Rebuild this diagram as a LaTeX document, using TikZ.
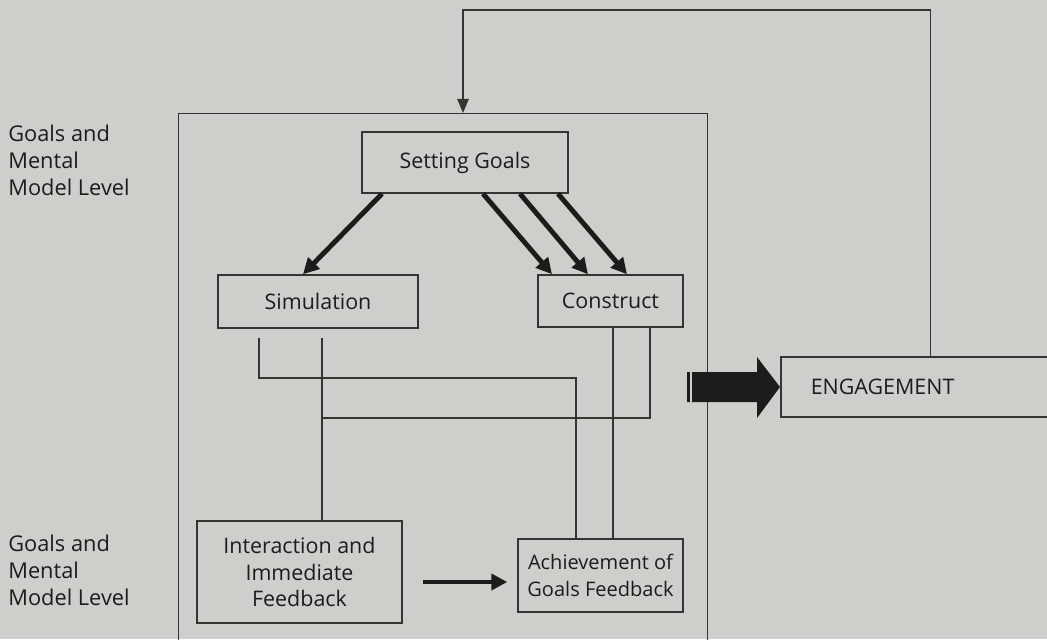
\documentclass[tikz,border=0pt]{standalone}
\usepackage{fontspec}
\setmainfont{Open Sans}
\usetikzlibrary{arrows.meta,calc}

\begin{document}
\begin{tikzpicture}[x=0.02cm,y=-0.02cm,
box/.style={draw=line,line width=0.85pt,align=center,inner sep=0pt,text=ink,font=\fontsize{12.2}{15.2}\selectfont},
level/.style={align=left,inner sep=0pt,anchor=north west,text=ink,font=\fontsize{12.4}{15.2}\selectfont},
link/.style={draw=line,line width=0.85pt},
goalarrow/.style={draw=ink,line width=2.8pt,-{Triangle[length=9pt,width=9pt]}},
loopline/.style={draw=line,line width=0.85pt,-{Triangle[length=8pt,width=6.5pt]}},
blockarrow/.style={fill=ink}]

\definecolor{paper}{RGB}{206,206,203}
\definecolor{line}{RGB}{52,52,52}
\definecolor{ink}{RGB}{28,28,28}

\useasboundingbox (0,0) rectangle (1047,639);
\clip (0,0) rectangle (1047,639);
\fill[paper] (0,0) rectangle (1047,639);

% levels
\node[level] (toplevel) at (8,125) {Goals and\\Mental\\Model Level};
\node[level] (lowlevel) at (8,535) {Goals and\\Mental\\Model Level};

% frame round the mental model
\node[link,minimum width=10.58cm,minimum height=12cm,anchor=north west,inner sep=0pt] (frame) at (178,113) {};

\node[box,minimum width=4.12cm,minimum height=1.22cm] (goals) at (465,162.5) {Setting Goals};
\node[box,minimum width=4cm,minimum height=1.06cm] (sim) at (318,301.5) {Simulation};
\node[box,minimum width=2.9cm,minimum height=1.04cm] (cons) at (610.5,301) {Construct};
\node[box,minimum width=4.1cm,minimum height=2.04cm] (inter) at (299.5,572) {Interaction and\\Immediate\\Feedback};
\node[box,minimum width=3.3cm,minimum height=1.46cm,font=\fontsize{11.4}{15.2}\selectfont] (achieve) at (600.5,575.5) {Achievement of\\Goals Feedback};
\node[box,minimum height=1.2cm,anchor=west,text width=4.8cm,inner xsep=0.6cm,align=left] (engage) at (780,387) {ENGAGEMENT};

% goals to simulation and construct
\draw[goalarrow] ($(goals.south)+(-83,0)$) -- ($(sim.north)+(-15,0)$);
\foreach \s/\e in {18/-58.5,55/-22.5,93/16.5}
    \draw[goalarrow] ($(goals.south)+(\s,0)$) -- ($(cons.north)+(\e,0)$);

% feedback lines
\coordinate (j1) at (576,378);
\draw[link] ($(sim.south)+(-59,9)$) |- (j1) -- (j1 |- achieve.north);
\draw[link] ($(sim.south)+(4,9)$) coordinate (s2) -- (s2 |- inter.north);
\draw[link] ($(cons.south)+(39.5,0)$) |- (s2 |- 0,418);
\draw[link] ($(cons.south)+(2.5,0)$) coordinate (c1) -- (c1 |- achieve.north);

\draw[goalarrow] ($(inter.east)+(20,10)$) coordinate (a1) -- ($(a1 -| achieve.west)+(-10,0)$);

% loop back from engagement
\coordinate (top) at (463,10);
\draw[loopline] (engage.north) |- (top) -- (top |- frame.north);

% block arrow into engagement
\fill[blockarrow] ($(engage.west)+(-93,-15)$) -- ++(70,0) -- ++(0,-15)
    -- (engage.west) -- ++(-23,31) -- ++(0,-16) -- ++(-70,0) -- cycle;
\draw[paper,line width=1.2pt] ($(engage.west)+(-89,-15)$) -- ++(0,30);

\end{tikzpicture}
\end{document}
